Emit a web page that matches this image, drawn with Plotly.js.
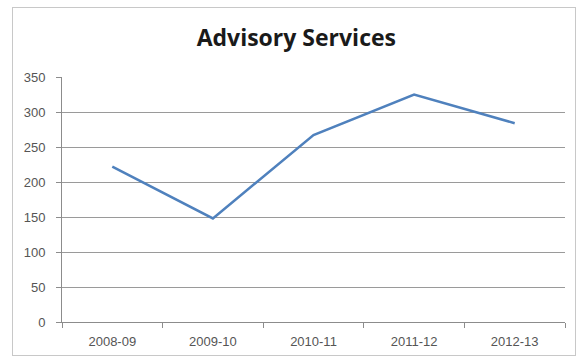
<!DOCTYPE html>
<html>
<head>
<meta charset="utf-8">
<script src="https://cdn.plot.ly/plotly-3.0.1.min.js"></script>
<style>
  html, body { margin: 0; padding: 0; background: #fff; }
  #wrap { position: relative; width: 581px; height: 362px; }
  #chart { width: 581px; height: 362px; }
  #frame { position: absolute; left: 12px; top: 7px; width: 564px; height: 349px;
           border: 1px solid #c8c8c8; pointer-events: none; box-sizing: border-box; }
</style>
</head>
<body>
<div id="wrap">
  <div id="chart"></div>
  <div id="frame"></div>
</div>
<script>
const chartTitle = "Advisory Services";
const categories = ["2008-09", "2009-10", "2010-11", "2011-12", "2012-13"];
const values = [222, 148, 267, 325, 284];
const yTicks = [0, 50, 100, 150, 200, 250, 300, 350];

const trace = {
  type: "scatter",
  mode: "lines",
  x: categories,
  y: values,
  line: { color: "#4F81BD", width: 2.5 },
  hoverinfo: "x+y"
};

const layout = {
  width: 581,
  height: 362,
  margin: { l: 62, r: 16, t: 77, b: 40 },
  paper_bgcolor: "#ffffff",
  plot_bgcolor: "#ffffff",
  showlegend: false,
  title: {
    text: "<b>" + chartTitle + "</b>",
    font: { family: "Open Sans, Liberation Sans, sans-serif", size: 23, color: "#1a1a1a" },
    x: 0.51, xanchor: "center",
    y: 0.895, yanchor: "middle", yref: "container"
  },
  xaxis: {
    type: "category",
    range: [-0.5, 4.5],
    showgrid: false,
    zeroline: false,
    showline: true,
    linecolor: "#8c8c8c",
    linewidth: 1,
    ticks: "outside",
    tickson: "boundaries",
    ticklen: 5,
    tickcolor: "#8c8c8c",
    ticklabelstandoff: 7,
    tickfont: { family: "Liberation Sans, Arial, sans-serif", size: 13, color: "#555" },
    fixedrange: true
  },
  yaxis: {
    range: [0, 350],
    tickvals: yTicks,
    ticktext: yTicks.map(String),
    showgrid: true,
    gridcolor: "#9a9a9a",
    gridwidth: 1,
    zeroline: false,
    showline: true,
    linecolor: "#8c8c8c",
    linewidth: 1,
    ticks: "outside",
    ticklen: 5,
    tickcolor: "#8c8c8c",
    ticklabelstandoff: 8,
    tickfont: { family: "Liberation Sans, Arial, sans-serif", size: 13, color: "#555" },
    fixedrange: true
  }
};

Plotly.newPlot("chart", [trace], layout, { displayModeBar: false, staticPlot: true });
</script>
</body>
</html>
